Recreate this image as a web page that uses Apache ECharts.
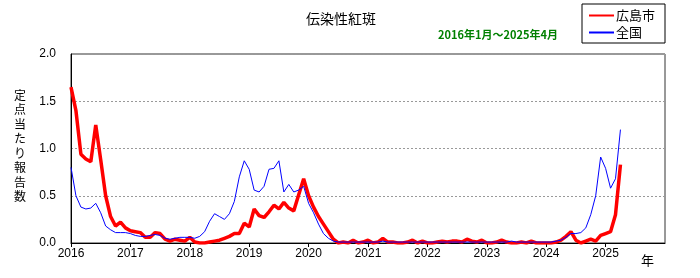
<!DOCTYPE html>
<html>
<head>
<meta charset="utf-8">
<script src="https://cdn.jsdelivr.net/npm/echarts@6/dist/echarts.min.js"></script>
<style>
  html, body { margin: 0; padding: 0; background: #fff; }
  #chart { width: 700px; height: 278px; }
</style>
</head>
<body>
<div id="chart"></div>
<script>
// 年ラベル（1月の位置）
var yearLabels = ['2016', '2017', '2018', '2019', '2020', '2021', '2022', '2023', '2024', '2025'];
// 広島市 定点当たり報告数（2016年1月～2025年4月、月別）
var hiroshima = [
    1.65, 1.40, 0.94, 0.89, 0.86, 1.25, 0.88, 0.50, 0.28, 0.18, 0.22, 0.16,
    0.13, 0.12, 0.11, 0.06, 0.06, 0.11, 0.10, 0.04, 0.02, 0.04, 0.03, 0.02,
    0.06, 0.01, 0.00, 0.00, 0.01, 0.02, 0.03, 0.05, 0.07, 0.10, 0.10, 0.21,
    0.17, 0.36, 0.29, 0.27, 0.33, 0.40, 0.36, 0.43, 0.37, 0.34, 0.51, 0.68,
    0.50, 0.38, 0.28, 0.20, 0.12, 0.04, 0.00, 0.01, 0.00, 0.03, 0.00, 0.01,
    0.03, 0.00, 0.01, 0.05, 0.01, 0.01, 0.00, 0.00, 0.01, 0.03, 0.00, 0.02,
    0.00, 0.00, 0.01, 0.02, 0.01, 0.02, 0.02, 0.01, 0.04, 0.02, 0.01, 0.03,
    0.00, 0.00, 0.01, 0.03, 0.01, 0.00, 0.00, 0.01, 0.00, 0.02, 0.00, 0.00,
    0.00, 0.00, 0.01, 0.03, 0.07, 0.12, 0.03, 0.00, 0.02, 0.04, 0.02, 0.08,
    0.10, 0.12, 0.30, 0.83
];
// 全国
var zenkoku = [
    0.80, 0.50, 0.38, 0.36, 0.37, 0.42, 0.32, 0.18, 0.14, 0.11, 0.11, 0.11,
    0.10, 0.08, 0.07, 0.07, 0.08, 0.09, 0.08, 0.05, 0.04, 0.05, 0.06, 0.06,
    0.06, 0.05, 0.07, 0.12, 0.23, 0.31, 0.28, 0.25, 0.31, 0.44, 0.70, 0.87,
    0.78, 0.56, 0.54, 0.60, 0.78, 0.79, 0.87, 0.54, 0.62, 0.54, 0.56, 0.60,
    0.42, 0.32, 0.20, 0.10, 0.05, 0.02, 0.01, 0.01, 0.01, 0.01, 0.01, 0.01,
    0.01, 0.01, 0.01, 0.02, 0.01, 0.01, 0.01, 0.01, 0.01, 0.01, 0.01, 0.01,
    0.01, 0.01, 0.01, 0.01, 0.01, 0.01, 0.01, 0.01, 0.01, 0.01, 0.01, 0.01,
    0.01, 0.01, 0.01, 0.01, 0.01, 0.02, 0.01, 0.01, 0.01, 0.01, 0.01, 0.01,
    0.01, 0.01, 0.02, 0.03, 0.06, 0.10, 0.10, 0.11, 0.16, 0.30, 0.50, 0.91,
    0.79, 0.58, 0.68, 1.20
];

var chart = echarts.init(document.getElementById('chart'));

//月番号付きの点列
function toPoints(arr) {
    var pts = [];
    for (var i = 0; i < arr.length; i++) {
        pts.push([i, arr[i]]);
    }
    return pts;
}

var yTitle = '定点当たり報告数'.split('').join('\n');

var option = {
    animation: false,
    backgroundColor: '#fff',
    title: {
        text: '伝染性紅斑',
        left: 336,
        textAlign: 'center',
        top: 7,
        textStyle: { fontSize: 14, fontWeight: 'normal', color: '#000', fontFamily: 'Noto Sans CJK JP' }
    },
    legend: {
        orient: 'vertical',
        left: 582,
        top: 4,
        padding: [5, 10, 4, 6],
        borderColor: '#000',
        borderWidth: 1,
        itemWidth: 25,
        itemHeight: 14,
        itemGap: 4,
        itemStyle: { opacity: 0 },
        textStyle: { fontSize: 13, color: '#000', fontFamily: 'Noto Sans CJK JP', padding: [0, 0, 0, -3] },
        data: ['広島市', '全国']
    },
    grid: {
        left: 71,
        right: 35,
        top: 54,
        bottom: 35,
        show: true,
        borderColor: '#333',
        borderWidth: 1
    },
    xAxis: {
        type: 'value',
        min: 0,
        max: 120,
        interval: 12,
        axisLine: { lineStyle: { color: '#000', width: 1 } },
        axisTick: { show: true, length: 4, lineStyle: { color: '#000' } },
        axisLabel: {
            color: '#000',
            fontSize: 12,
            fontFamily: 'Liberation Sans',
            margin: 5,
            showMaxLabel: false,
            formatter: function (v) {
                return yearLabels[v / 12] || '';
            }
        },
        splitLine: { show: false }
    },
    yAxis: {
        type: 'value',
        min: 0,
        max: 2,
        interval: 0.5,
        axisLine: { show: true, lineStyle: { color: '#000' } },
        axisTick: { show: false },
        axisLabel: {
            color: '#000',
            fontSize: 12,
            fontFamily: 'Liberation Sans',
            margin: 15,
            formatter: function (v) { return v.toFixed(1); }
        },
        splitLine: { show: true, lineStyle: { color: '#999', type: [2, 2], width: 1 } }
    },
    graphic: [
        {
            type: 'text',
            left: 14,
            top: 88,
            style: {
                text: yTitle,
                fontSize: 12,
                lineHeight: 14.5,
                fill: '#000',
                fontFamily: 'Noto Sans CJK JP'
            }
        },
        {
            type: 'text',
            left: 641,
            top: 254,
            style: { text: '年', fontSize: 13, fill: '#000', fontFamily: 'Noto Sans CJK JP' }
        },
        {
            type: 'text',
            left: 438,
            top: 29,
            style: {
                text: '2016年1月～2025年4月',
                fontSize: 11,
                fontWeight: 'bold',
                fill: '#008000',
                fontFamily: 'Noto Sans CJK JP'
            }
        }
    ],
    series: [
        {
            name: '広島市',
            type: 'line',
            data: toPoints(hiroshima),
            symbol: 'none',
            z: 3,
            lineStyle: { color: '#ff0000', width: 3.5 },
            itemStyle: { color: '#ff0000' }
        },
        {
            name: '全国',
            type: 'line',
            data: toPoints(zenkoku),
            symbol: 'none',
            z: 4,
            lineStyle: { color: '#0000ff', width: 1 },
            itemStyle: { color: '#0000ff' }
        }
    ]
};
chart.setOption(option);
</script>
</body>
</html>
